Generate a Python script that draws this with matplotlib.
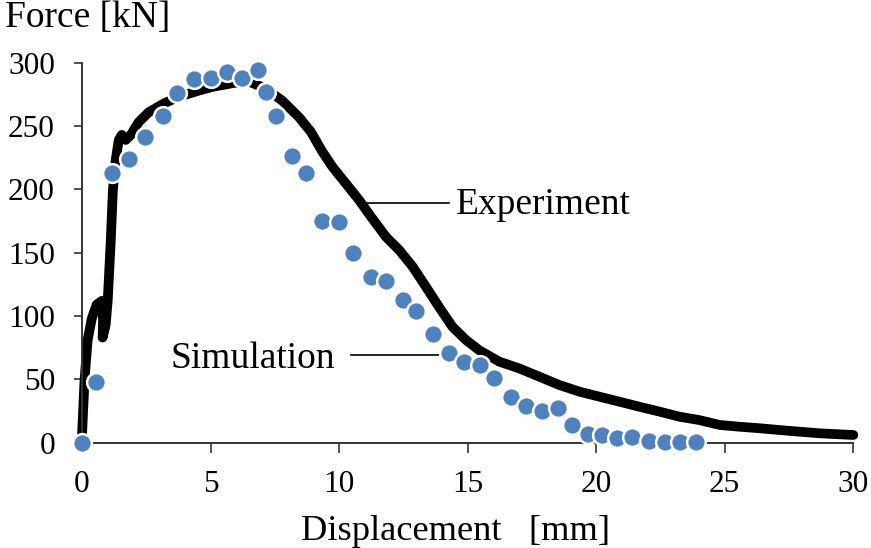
import matplotlib
matplotlib.use("Agg")
import matplotlib.pyplot as plt

plt.rcParams['font.family'] = ['Liberation Serif', 'DejaVu Serif']

# Experiment curve (displacement mm, force kN)
exp_x = [0.0, 0.1, 0.22, 0.38, 0.57, 0.77, 0.82, 0.8, 0.92, 1.0, 1.12, 1.2, 1.31, 1.43, 1.55,
         1.7, 1.9, 2.2, 2.6, 3.2, 3.75, 4.55, 5.1, 5.9, 6.5, 7.1, 7.79, 8.44, 8.9, 9.35,
         9.74, 10.26, 10.78, 11.24, 11.82, 12.34, 12.86, 13.38, 13.89, 14.41, 14.94, 15.45,
         16.23, 17.0, 17.8, 18.57, 19.35, 20.13, 20.9, 21.68, 22.47, 23.24, 24.0, 24.8,
         25.58, 26.36, 27.13, 27.9, 28.7, 29.48, 30.0]
exp_y = [6, 50, 81, 98, 109, 112, 97, 83, 93, 112, 160, 199, 223, 239, 243,
         239, 243, 253, 261, 268, 273, 278, 281, 284, 285, 280, 270, 257, 245.5, 229.7,
         217.8, 204.7, 191.5, 178.4, 162.6, 152, 139, 123, 107, 91.5, 81, 73,
         64, 58.7, 52, 45.5, 40.3, 36.3, 32.4, 28.4, 24.5, 20.5, 17.9, 14,
         12.6, 11.4, 10, 8.7, 7.4, 6.6, 6.1]

# Simulation points
sim_x = [0.0, 0.53, 1.17, 1.82, 2.44, 3.14, 3.69, 4.35, 5.0, 5.64, 6.21, 6.84, 7.17, 7.53,
         8.18, 8.73, 9.35, 10.0, 10.56, 11.23, 11.82, 12.47, 13.01, 13.66, 14.29, 14.87,
         15.47, 16.04, 16.69, 17.27, 17.91, 18.53, 19.07, 19.7, 20.23, 20.79, 21.41, 22.07,
         22.69, 23.25, 23.9]
sim_y = [0, 48, 213, 224, 241, 258, 276, 287, 288, 293, 288, 294, 277, 258,
         226, 213, 175, 174, 150, 131, 128, 113, 104, 86, 71, 64,
         61, 51, 36, 29, 25, 27, 14, 7, 6, 4, 4.5, 1.3,
         0.3, 0.3, 0.3]

x_ticks = [0, 5, 10, 15, 20, 25, 30]
y_ticks = [0, 50, 100, 150, 200, 250, 300]

W, H = 871, 548
fig = plt.figure(figsize=(W / 100, H / 100), dpi=100)
ax = fig.add_axes([82 / W, 1 - 442.7 / H, (853.3 - 82) / W, (442.7 - 62.7) / H])

ax.plot(exp_x, exp_y, color='black', lw=7.0, solid_joinstyle='round',
        solid_capstyle='round', zorder=2, clip_on=False)
ax.plot(sim_x, sim_y, linestyle='none', marker='o', markersize=13.5,
        markerfacecolor='#4F81BD', markeredgecolor='white', markeredgewidth=1.8,
        zorder=3, clip_on=False)

ax.set_xlim(0, 30)
ax.set_ylim(0, 300)
ax.set_xticks(x_ticks)
ax.set_yticks(y_ticks)
ax.tick_params(axis='both', direction='out', width=1.2, labelsize=22.5, color='#333333')
ax.tick_params(axis='x', length=7, pad=13)
ax.tick_params(axis='y', length=6, pad=13.5)
for s in ['top', 'right']:
    ax.spines[s].set_visible(False)
for s in ['left', 'bottom']:
    ax.spines[s].set_color('#333333')
    ax.spines[s].set_linewidth(1.4)

fig.text(5 / W, 1 - 18 / H, 'Force [kN]', fontsize=27, ha='left', va='center')
fig.text(456 / W, 1 - 531 / H, 'Displacement   [mm]', fontsize=26.2, ha='center', va='center')

# Annotations
ax.plot([10.97, 14.26], [189, 189], color='black', lw=1.2, zorder=1)
ax.text(14.55, 188, 'Experiment', fontsize=27, ha='left', va='center')
ax.plot([10.46, 14.55], [69.2, 69.2], color='black', lw=1.2, zorder=1)
ax.text(9.85, 66, 'Simulation', fontsize=27, ha='right', va='center')

fig.savefig('out.png', dpi=100)
